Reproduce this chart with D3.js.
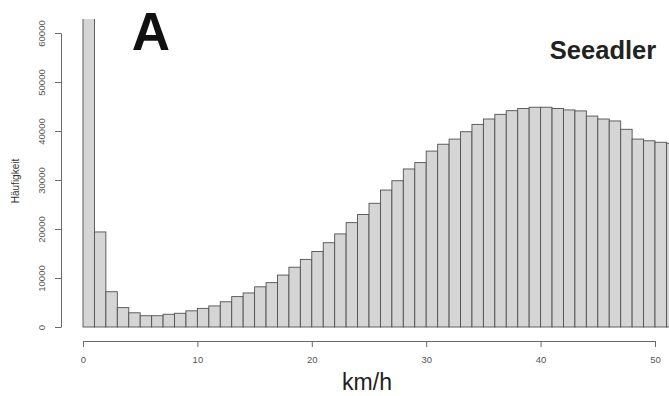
<!DOCTYPE html>
<html>
  <head>
    <meta charset="utf-8">
    <title>Seeadler km/h</title>
    <script src="https://d3js.org/d3.v7.min.js"></script>
    <style>
      body { margin: 0; background: #fff; }
      svg { display: block; font-family: "Liberation Sans", Arial, sans-serif; }
    </style>
  </head>
  <body>
    <div id="vis"></div>
    <script>
      var width = 669;
      var height = 396;

      // bin start (km/h), one bin per 1 km/h
      var bins = d3.range(0, 52);
      // counts (Häufigkeit)
      var counts = [64000, 19400, 7200, 3950, 2900, 2300, 2300, 2600, 2800, 3300,
                    3800, 4300, 5150, 6200, 6950, 8200, 9050, 10600, 12200, 13800,
                    15400, 17200, 19000, 21300, 22950, 25250, 27950, 29850, 32250, 33550,
                    35900, 37300, 38350, 39850, 41350, 42450, 43400, 44150, 44600, 44850,
                    44850, 44600, 44300, 44100, 43050, 42450, 42050, 40350, 38350, 38000,
                    37700, 37500];
      var xTicks = [0, 10, 20, 30, 40, 50];
      var yTicks = [0, 10000, 20000, 30000, 40000, 50000, 60000];

      var svg = d3.select("#vis")
        .append("svg")
        .attr("width", width)
        .attr("height", height);

      var x = d3.scaleLinear().domain([0, 50]).range([83, 655]);
      var y = d3.scaleLinear().domain([0, 60000]).range([327, 33]);

      svg.append("clipPath").attr("id", "clip")
        .append("rect")
        .attr("x", 0).attr("y", 19)
        .attr("width", width).attr("height", height);

      svg.append("g")
        .attr("clip-path", "url(#clip)")
        .selectAll("rect")
        .data(bins)
        .enter()
        .append("rect")
        .attr("x", function (d) { return x(d); })
        .attr("y", function (d, i) { return y(counts[i]); })
        .attr("width", function (d) { return x(d + 1) - x(d); })
        .attr("height", function (d, i) { return y(0) - y(counts[i]); })
        .style("fill", "#d5d5d5")
        .style("stroke", "#505050")
        .style("stroke-width", 0.9);

      var xAxis = svg.append("g")
        .attr("transform", "translate(0, 341)")
        .call(d3.axisBottom(x).tickValues(xTicks).tickSize(6).tickSizeOuter(0).tickPadding(9));

      var yAxis = svg.append("g")
        .attr("transform", "translate(61, 0)")
        .call(d3.axisLeft(y).tickValues(yTicks).tickSize(6).tickSizeOuter(0).tickFormat(d3.format("d")));

      [xAxis, yAxis].forEach(function (g) {
        g.selectAll("path, line").style("stroke", "#6a6a6a");
        g.selectAll("text").style("fill", "#555").style("font-size", "9.5px").style("font-family", "'Liberation Sans', Arial, sans-serif");
      });

      // rotate y tick labels like R's default
      yAxis.selectAll("text")
        .attr("x", null).attr("dy", null)
        .attr("text-anchor", "middle")
        .attr("transform", "translate(-16, 0) rotate(-90)");

      svg.append("text")
        .attr("transform", "translate(19, 181) rotate(-90)")
        .attr("text-anchor", "middle")
        .style("font-size", "10px")
        .style("fill", "#333")
        .text("H\u00e4ufigkeit");

      svg.append("text")
        .attr("x", 367).attr("y", 390)
        .attr("text-anchor", "middle")
        .style("font-size", "23px")
        .style("fill", "#222")
        .text("km/h");

      svg.append("text")
        .attr("x", 151).attr("y", 50)
        .attr("text-anchor", "middle")
        .style("font-size", "53px")
        .style("font-weight", "bold")
        .style("fill", "#111")
        .text("A");

      svg.append("text")
        .attr("x", 603).attr("y", 59)
        .attr("text-anchor", "middle")
        .style("font-size", "25.5px")
        .style("font-weight", "bold")
        .style("fill", "#222")
        .text("Seeadler");
    </script>
  </body>
</html>
